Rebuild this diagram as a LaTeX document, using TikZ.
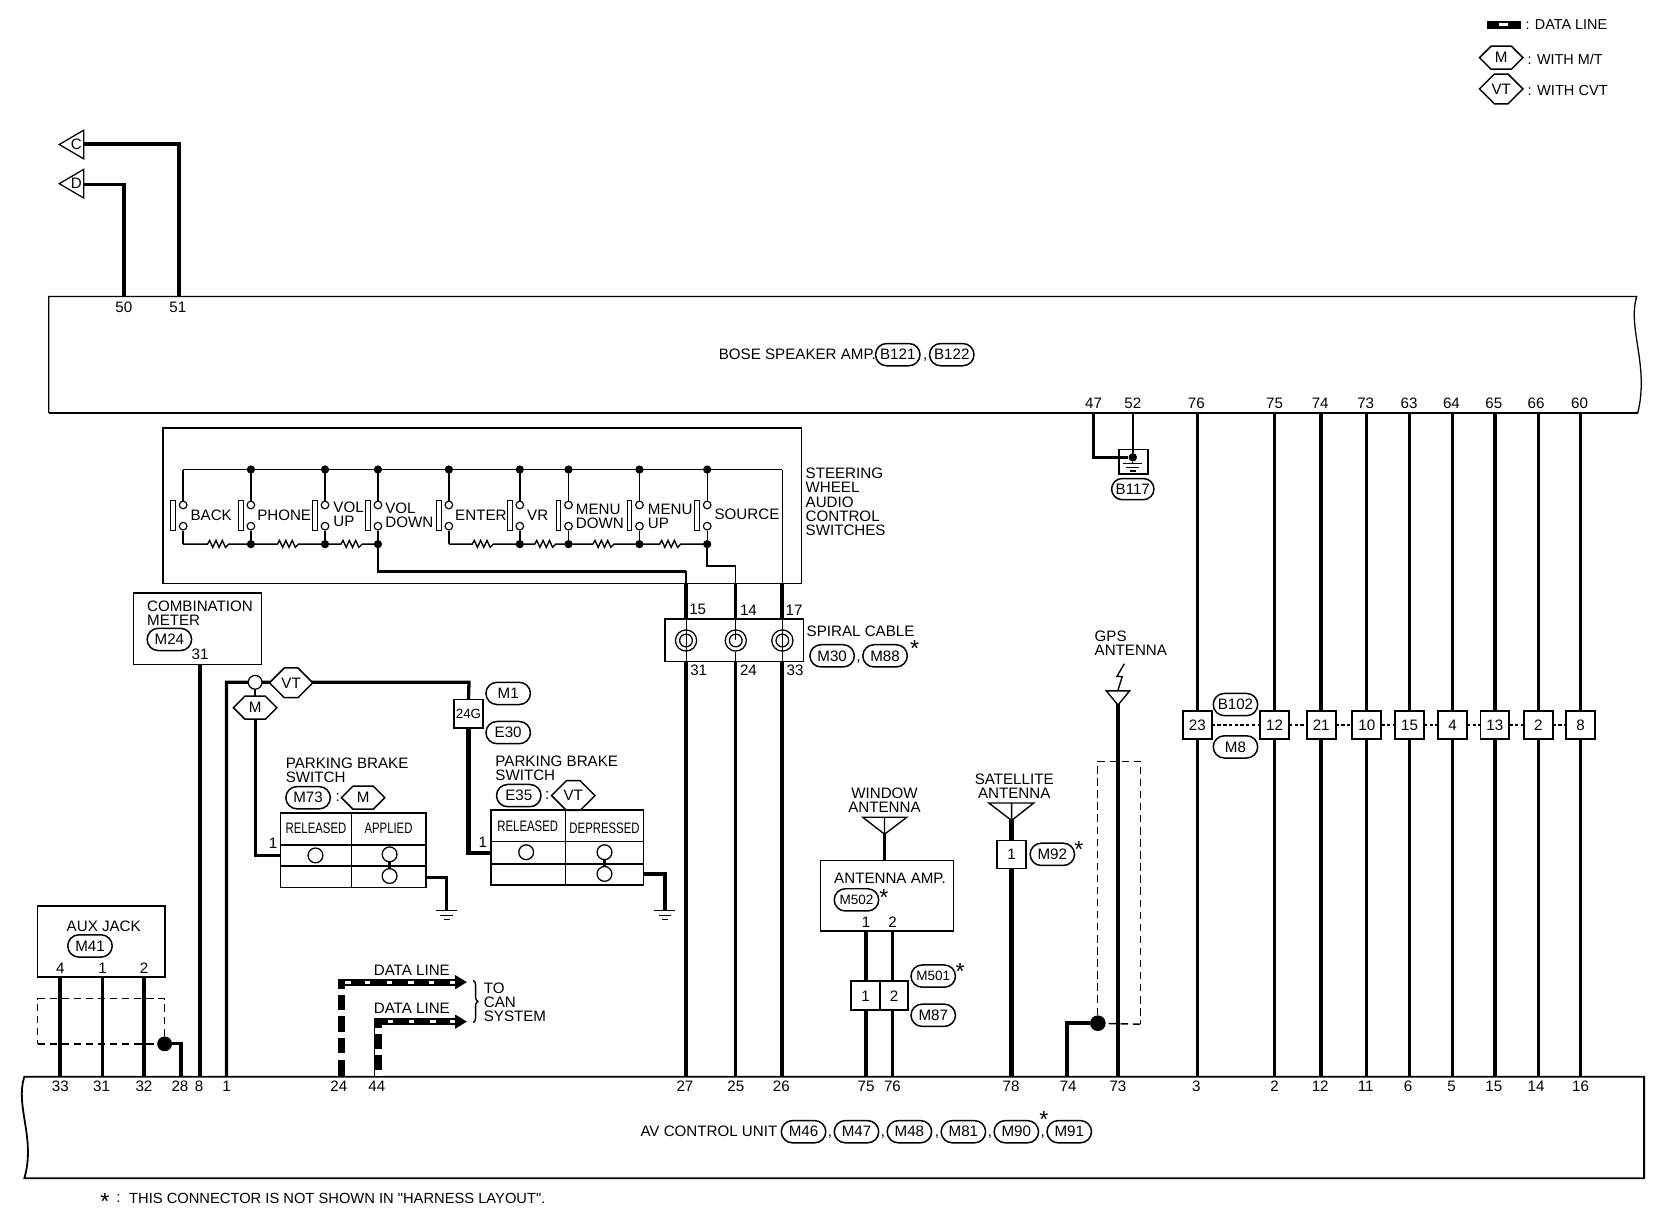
\documentclass[tikz,border=0pt]{standalone}
\usepackage{fontspec}
\usepackage{graphicx}
\setmainfont{Liberation Sans}
\newfontfamily\rawf{Liberation Sans}
\usetikzlibrary{shapes.misc,fit,decorations.pathreplacing}
\pgfdeclarelayer{bg}
\pgfsetlayers{bg,main}
\newcommand{\fs}{\fontsize{7.15}{6.65}\selectfont}
\newcommand{\nar}[1]{\scalebox{.75}[1]{#1}}
\tikzset{
  lbl/.style={inner sep=0pt,outer sep=0pt,font=\fs,align=left},
  lblw/.style={lbl,anchor=west},
  pill/.style={rounded rectangle,draw,fill=white,line width=.7pt,inner sep=0pt,outer sep=0pt,minimum width=21pt,minimum height=10.5pt,font=\fs},
  hexa/.style={chamfered rectangle,chamfered rectangle xsep=5pt,chamfered rectangle ysep=5.2pt,draw,fill=white,line width=.7pt,inner sep=0pt,outer sep=0pt,minimum width=20.5pt,minimum height=10.4pt,font=\fs},
  sbox/.style={draw,line width=.75pt,inner sep=0pt,outer sep=0pt},
  wbox/.style={sbox,fill=white},
  conn/.style={draw,fill=white,line width=.9pt,inner sep=0pt,outer sep=0pt,minimum width=13.6pt,minimum height=13.3pt,font=\fs},
  wire/.style={line width=1.55pt},
  wirex/.style={line width=2pt},
  wirem/.style={line width=1.2pt},
  rail/.style={line width=.65pt},
  contact/.style={circle,draw,fill=white,line width=.55pt,inner sep=0pt,minimum size=3.6pt},
  jdot/.style={circle,fill=black,inner sep=0pt,minimum size=3.9pt},
  bardraw/.style={draw,fill=white,line width=.5pt,inner sep=0pt,minimum width=2.2pt,minimum height=14.5pt},
  ring/.style={circle,draw,line width=.6pt,inner sep=0pt,minimum size=7pt,fill=white},
  shield/.style={line width=.55pt,dash pattern=on 3.5pt off 2.2pt},
  flagd/.style={line width=.6pt,fill=white},
  coilo/.style={circle,draw,fill=white,line width=.6pt,inner sep=0pt,minimum size=10pt},
  coili/.style={circle,draw,line width=.6pt,inner sep=0pt,minimum size=6pt},
}
\newcommand{\res}[3]{\draw[rail] (#1) -- (#3-10,514) -- (#3-8,510.5) -- (#3-5,517) -- (#3-2,510.5) -- (#3+1,517) -- (#3+4,510.5) -- (#3+7,517) -- (#3+10,514) -- (#2);}
\newcommand{\gnd}[3]{\coordinate (#1) at (#2,#3);
  \draw[rail] (#2-10,#3) -- (#2+10,#3) (#2-6,#3+4.5) -- (#2+6,#3+4.5) (#2-3,#3+8.5) -- (#2+3,#3+8.5);}
\newcommand{\strn}[3]{\node[lbl,anchor=north,font=\fontsize{11}{11}\selectfont] (#1) at (#2,#3) {*};}
\begin{document}
\begin{tikzpicture}[x=.5pt,y=-.5pt]
\useasboundingbox (0,0) rectangle (1568,1148.5);

% ---------- main units
\coordinate (bosetl) at (46,280);
\coordinate (avbl) at (23,1113);
\draw[line width=.6pt] (46,390) -- (46,280) -- (1546,280) .. controls (1537,310) and (1558,345) .. (1547,390);
\draw[line width=1.1pt] (46,390) -- (1547,390);
\node[lblw] (bosetxt) at (679,335) {BOSE SPEAKER AMP.};
\node[pill] (b121) at (848,335) {B121};
\node[lbl] (bc1) at (874,340) {,};
\node[pill] (b122) at (899,335) {B122};

\draw[line width=.85pt] (23,1017) .. controls (14,1045) and (34,1075) .. (23,1113) -- (1553,1113) -- (1553,1017) -- cycle;
\node[lblw] (avtxt) at (605,1069) {AV CONTROL UNIT};
\foreach \n/\x in {M46/759,M47/809,M48/859,M81/910,M90/960,M91/1010}
  \node[pill] (\n) at (\x,1069) {\n};
\foreach \n/\x in {a/784,b/834,c/885,d/935,e/985}
  \node[lbl] (avc\n) at (\x,1074) {,};
\strn{starav}{986}{1050}
\node[lbl,anchor=north,font=\fontsize{11}{11}\selectfont] (starfn) at (99,1127) {*};
\node[lblw] (fncolon) at (110,1132) {:};
\node[lblw,font=\fontsize{6.95}{7}\selectfont] (fn) at (122,1132) {THIS CONNECTOR IS NOT SHOWN IN {\rawf"}HARNESS LAYOUT{\rawf"}.};

% ---------- legend
\fill (1405,20) rectangle (1437,27);
\fill[white] (1416,22) rectangle (1424,25);
\node[lblw,font=\fontsize{6.8}{7}\selectfont] (l1) at (1441,23) {: DATA LINE};
\node[hexa] (lm) at (1418,54.5) {M};
\node[lblw,font=\fontsize{6.8}{7}\selectfont] (l2) at (1443,56) {: WITH M/T};
\node[hexa] (lv) at (1418,84) {VT};
\node[lblw,font=\fontsize{6.9}{7}\selectfont] (l3) at (1443,85) {: WITH CVT};

% ---------- C, D flags
\draw[flagd] (79,123) -- (56,136.5) -- (79,150) -- cycle;
\draw[flagd] (79,160) -- (56,173.5) -- (79,187) -- cycle;
\node[lbl] (fc) at (72,136.5) {C};
\node[lbl] (fd) at (72,173.5) {D};
\coordinate (cend) at (79,136);
\coordinate (dend) at (79,174);
\coordinate (b50) at (117,280);
\coordinate (b51) at (169,280);
\draw[wire,line cap=butt] (cend) -| (b51);
\draw[wire,line cap=butt] (dend) -| (b50);
\node[lbl] (n50) at (117,290) {50};
\node[lbl] (n51) at (168,290) {51};

% ---------- pin labels and through wires
\foreach \n/\x in {47/1033,52/1070,76/1130,75/1204,74/1247,73/1290,63/1331,64/1371,65/1411,66/1451,60/1492}
  \node[lbl] (tl\n) at (\x,381) {\n};
\foreach \n/\x in {33/57,31/96,32/136,28/170,8/188,1/214,24/320,44/356,27/647,25/695,26/738,75/818,76/843,78/955,74/1009,73/1056,3/1130,2/1204,12/1247,11/1290,6/1330,5/1371,15/1411,14/1451,16/1493}
  \node[lbl] (al\n) at (\x,1026) {\n};

\foreach \i/\x/\t/\w in {a/1131/23/wire,b/1204/12/wire,c/1248/21/wirex,d/1291/10/wire,e/1331.5/15/wire,f/1372/4/wire,g/1412/13/wire,h/1453/2/wire,i/1493/8/wire}{
  \coordinate (up\i) at (\x,390);
  \coordinate (dn\i) at (\x,1017);
  \node[conn] (c\i) at (\x,684.7) {\t};
  \begin{pgfonlayer}{bg}\draw[\w] (up\i) -- (dn\i);\end{pgfonlayer}
}
\draw[line width=.7pt,dash pattern=on 1.6pt off 1.1pt] (ca) -- (cb) (cb) -- (cc) (cc) -- (cd) (cd) -- (ce) (ce) -- (cf) (cf) -- (cg) (cg) -- (ch) (ch) -- (ci);
\node[pill] (b102) at (1167,665.5) {B102};
\node[pill] (m8) at (1167,705.5) {M8};

% ---------- B117 ground
\node[wbox,fit={(1057,424.5)(1084.5,448)}] (gb) {};
\node[jdot,minimum size=4pt] (gd) at (1070,432) {};
\coordinate (t47) at (1033,390);
\coordinate (t52) at (1070,390);
\draw[wire] (t47) |- (gb.west |- gd);
\draw[wirem] (gb.west |- gd) -- (gd);
\draw[wirem] (t52) -- (gd);
\draw[rail] (gd) -- (1070,438);
\draw[rail] (1061,438) -- (1079,438) (1064,441.5) -- (1076,441.5) (1067,445) -- (1073,445);
\node[pill,minimum width=20pt,minimum height=10pt] (b117) at (1070,462) {B117};

% ---------- steering wheel switches
\node[sbox,fit={(154,404)(757,551)}] (sw) {};
\draw[line width=1pt] (sw.north west) -- (sw.north east);
\foreach \i/\x in {a/173,b/237,c/307,d/357,e/424,f/491,g/537,h/604,i/668}{
  \node[contact] (u\i) at (\x,477) {};
  \node[contact] (l\i) at (\x,497) {};
  \node[bardraw] (bar\i) at (\x-9.5,487) {};
  \coordinate (tn\i) at (\x,443.5);
  \coordinate (bn\i) at (\x,514);
  \begin{pgfonlayer}{bg}
    \draw[rail] (tn\i) -- (u\i);
    \draw[rail] (l\i) -- (bn\i);
  \end{pgfonlayer}
}
\foreach \i/\x in {b/237,c/307,d/357,e/424,f/491,g/537,h/604,i/668}
  \node[jdot] (tj\i) at (\x,443.5) {};
\foreach \i/\x in {b/237,c/307,d/357,f/491,g/537,h/604,i/668}
  \node[jdot] (bj\i) at (\x,514) {};
\coordinate (trail) at (739,443.5);
\draw[rail] (tna) -- (trail);
\res{bna}{bnb}{206}
\res{bnb}{bnc}{272}
\res{bnc}{bnd}{332}
\res{bne}{bnf}{456}
\res{bnf}{bng}{515}
\res{bng}{bnh}{570}
\res{bnh}{bni}{633}
\node[lblw] (sbk) at (180,487) {BACK};
\node[lblw] (sph) at (243,487) {PHONE};
\node[lblw] (svu) at (315,486) {VOL\\UP};
\node[lblw] (svd) at (364,487) {VOL\\DOWN};
\node[lblw] (sen) at (430,487) {ENTER};
\node[lblw] (svr) at (498,487) {VR};
\node[lblw] (smd) at (544,488) {MENU\\DOWN};
\node[lblw] (smu) at (612,488) {MENU\\UP};
\node[lblw] (sso) at (675,486) {SOURCE};
\node[lblw] (swt) at (761,474) {STEERING\\WHEEL\\AUDIO\\CONTROL\\SWITCHES};

% ---------- spiral cable
\node[sbox,fit={(628,584.5)(759,625)}] (sp) {};
\coordinate (k15) at (648,539.6);
\coordinate (k14) at (695,534.5);
\foreach \i/\x in {a/648,b/695,c/739}{
  \coordinate (o\i) at (\x,551);
  \coordinate (st\i) at (\x,584.5);
  \coordinate (sl\i) at (\x,625);
  \coordinate (e\i) at (\x,1017);
  \node[coilo] (co\i) at (\x,605) {};
  \node[coili] (ci\i) at (\x,605) {};
  \draw[line width=.5pt] (st\i) -- (\x,605);
}
\draw[line width=.5pt] (coa.center) -- (sla) (coc.center) -- (slc) (cob.south) -- (slb);
\begin{pgfonlayer}{bg}
\draw[wirem] (bnd) |- (k15);
\draw[wirem] (bni) |- (k14);
\draw[rail] (k15) -- (oa);
\draw[rail] (k14) -- (ob);
\draw[rail] (trail) -- (oc);
\draw[wirex] (oa) -- (sta);
\draw[wire] (ob) -- (stb);
\draw[wirex] (oc) -- (stc);
\draw[wirex] (sla) -- (ea);
\draw[wire] (slb) -- (eb);
\draw[wirex] (slc) -- (ec);
\end{pgfonlayer}
\foreach \n/\x in {15/659,14/707,17/750}
  \node[lbl] (sa\n) at (\x,576) {\n};
\foreach \n/\x in {31/660,24/707,33/751}
  \node[lbl] (sb\n) at (\x,633.5) {\n};
\node[lblw] (sct) at (762,596) {SPIRAL CABLE};
\node[pill] (m30) at (786,619.5) {M30};
\node[lbl] (spc) at (811,625) {,};
\node[pill] (m88) at (836,619.5) {M88};
\strn{starsp}{864}{605}

% ---------- combination meter
\node[sbox,fit={(126,560)(247,627.5)}] (cm) {};
\node[lblw] (cmt) at (139,579) {COMBINATION\\METER};
\node[pill] (m24) at (160,604) {M24};
\node[lbl] (cm31) at (189,618) {31};
\coordinate (cmb) at (189,627.5);
\coordinate (a8) at (189,1017);
\draw[wirex] (cmb) -- (a8);

% ---------- parking brake branch
\coordinate (a1) at (214,1017);
\coordinate (j1) at (214,644.5);
\coordinate (jr) at (443,644.5);
\node[ring,minimum size=6.5pt] (jc) at (241,644.5) {};
\node[hexa] (jv) at (275,645) {VT};
\node[hexa] (jm) at (241,668.5) {M};
\node[conn,minimum height=13.3pt] (c24) at (442.5,674) {\fontsize{6.3}{7}\selectfont 24G};
\node[pill] (m1) at (480,655) {M1};
\node[pill] (e30) at (480,692) {E30};
\coordinate (sw1) at (265,808);
\coordinate (sw2) at (464,806);
\begin{pgfonlayer}{bg}
\draw[wire] (a1) -- (j1) -- (jr) -- (c24.north);
\draw[wirex] (c24.south) |- (sw2);
\draw[rail] (jc) -- (jm);
\draw[wire] (jm.south) |- (sw1);
\end{pgfonlayer}
\node[lbl] (one1) at (258,797) {1};
\node[lbl] (one2) at (456,796) {1};

\node[lblw] (pb1) at (270,728) {PARKING BRAKE\\SWITCH};
\node[pill] (m73) at (291,753.5) {M73};
\node[lbl] (pc1) at (319,753.5) {:};
\node[hexa] (hm) at (343,753.5) {M};
\node[sbox,fit={(265,768)(402.5,838.5)}] (tb1) {};
\draw[rail] (332,768) -- (332,838.5) (265,798) -- (402.5,798) (265,818) -- (402.5,818);
\node[lbl] (t1a) at (298.5,782.5) {\nar{RELEASED}};
\node[lbl] (t1b) at (367,782.5) {\nar{APPLIED}};
\node[ring] (r1) at (298,808) {};
\node[ring] (r2) at (368,807) {};
\node[ring] (r3) at (368,827.5) {};
\draw[wirem] (r2) -- (r3);
\gnd{g1}{422}{860}
\coordinate (o1) at (402.5,829);
\draw[wire] (o1) -| (g1);

\node[lblw] (pb2) at (468,725.5) {PARKING BRAKE\\SWITCH};
\node[pill] (e35) at (490,751.5) {E35};
\node[lbl] (pc2) at (517,751.5) {:};
\node[hexa] (hv) at (541.5,751.5) {VT};
\node[sbox,fit={(464,765)(608,836)}] (tb2) {};
\draw[rail] (534,765) -- (534,836) (464,795) -- (608,795) (464,816) -- (608,816);
\node[lbl] (t2a) at (498.5,780.5) {\nar{RELEASED}};
\node[lbl] (t2b) at (571,782) {\nar{DEPRESSED}};
\node[ring] (r4) at (497,805) {};
\node[ring] (r5) at (571,805) {};
\node[ring] (r6) at (571,825.5) {};
\draw[wirem] (r5) -- (r6);
\gnd{g2}{628}{860}
\coordinate (o2) at (608,825.5);
\draw[wirex] (o2) -| (g2);

% ---------- aux jack
\node[sbox,fit={(35.5,856)(156,923)}] (aux) {};
\node[lbl] (auxt) at (98,875) {AUX JACK};
\node[pill] (m41) at (85,893.5) {M41};
\foreach \n/\x/\w in {4/57/wirex,1/97/wire,2/136/wire}{
  \node[lbl] (ap\n) at (\x,914.5) {\n};
  \coordinate (ax\n) at (\x,923);
  \coordinate (ay\n) at (\x,1017);
  \draw[\w] (ax\n) -- (ay\n);
}
\node[jdot,minimum size=7pt] (adot) at (155.5,986) {};
\coordinate (a28) at (171,1017);
\draw[wire] (adot) -| (a28);
\draw[shield] (adot) -- (155.5,943.5) -- (35.5,943.5) -- (35.5,986);
\draw[line width=.7pt,dash pattern=on 3.5pt off 2.2pt] (35.5,986) -- (adot);

% ---------- data lines
\coordinate (d1a) at (322.7,1017);
\coordinate (d1b) at (322.7,927.7);
\coordinate (d1c) at (431,927.7);
\coordinate (d2a) at (357,1017);
\coordinate (d2b) at (357,965);
\coordinate (d2c) at (431,965);
\draw[line width=3.4pt,miter limit=4] (d1a) -- (d1b) -- (d1c);
\draw[line width=3.4pt,miter limit=4] (d2a) -- (d2b) -- (d2c);
\foreach \y in {937,957,977.5,998}
  \fill[white] (319,\y-3) rectangle (326.4,\y+3);
\foreach \y in {973.6,993.8,1013.6}
  \fill[white] (354.4,\y-3) rectangle (360.8,\y+3);
\foreach \x in {328.8,347.3,367.7,388,407.7,427.5}
  \fill[white] (\x-2.6,926.2) rectangle (\x+2.6,929.2);
\foreach \x in {368.7,388.8,409,428}
  \fill[white] (\x-2.6,963.5) rectangle (\x+2.6,966.5);
\fill (430,921) -- (441,927.7) -- (430,934.4) -- cycle;
\fill (430,958.3) -- (441,965) -- (430,971.7) -- cycle;
\node[lbl] (dl1) at (389,916.5) {DATA LINE};
\node[lbl] (dl2) at (389,952) {DATA LINE};
\draw[rail,decorate,decoration={brace,amplitude=2.2pt}] (447,926) -- (447,966);
\node[lblw] (tocan) at (457,947) {TO\\CAN\\SYSTEM};

% ---------- window antenna
\node[lbl,align=center] (wa) at (835.5,755.5) {WINDOW\\ANTENNA};
\draw[rail] (815,772) -- (856.5,772) -- (835.5,788) -- cycle (835.5,772) -- (835.5,788);
\coordinate (wtip) at (835.5,788);
\node[sbox,fit={(775,813)(900.5,879.5)}] (amp) {};
\draw[wire] (wtip) -- (amp.north -| wtip);
\node[lblw] (ampt) at (788,830) {ANTENNA AMP.};
\node[pill] (m502) at (809,850) {\fontsize{6.4}{7}\selectfont M502};
\strn{star502}{835}{840}
\node[lbl] (p1) at (818,871) {1};
\node[lbl] (p2) at (843,871) {2};
\node[conn,minimum width=13.5pt,minimum height=13.7pt] (k1) at (817.5,940.7) {1};
\node[conn,minimum width=13.5pt,minimum height=13.7pt] (k2) at (844.5,940.7) {2};
\coordinate (am1) at (818,879.5);
\coordinate (am2) at (843,879.5);
\coordinate (av1) at (818,1017);
\coordinate (av2) at (843,1017);
\begin{pgfonlayer}{bg}
\draw[wirex] (am1) -- (av1);
\draw[wire] (am2) -- (av2);
\end{pgfonlayer}
\node[pill] (m501) at (881.5,922) {\fontsize{6.4}{7}\selectfont M501};
\strn{star501}{907}{910}
\node[pill] (m87) at (881.5,959) {M87};

% ---------- satellite antenna
\node[lbl,align=center] (sa) at (958,742.5) {SATELLITE\\ANTENNA};
\draw[rail] (934,758.5) -- (976.5,758.5) -- (955.5,775) -- cycle (955.5,758.5) -- (955.5,775);
\coordinate (stip) at (955.5,775);
\coordinate (sbot) at (955.5,1017);
\node[conn,line width=.65pt] (k3) at (955.5,807.3) {1};
\begin{pgfonlayer}{bg}\draw[wirex] (stip) -- (sbot);\end{pgfonlayer}
\node[pill] (m92) at (994,807) {M92};
\strn{star92}{1019}{795}

% ---------- GPS antenna
\node[lblw] (gps) at (1034,608) {GPS\\ANTENNA};
\draw[rail] (1062,627) -- (1055,639) -- (1060,639) -- (1056,652);
\draw[rail] (1045,652.6) -- (1067,652.6) -- (1056,666) -- cycle;
\coordinate (gtip) at (1056,665);
\coordinate (gbot) at (1056,1017);
\draw[wirex] (gtip) -- (gbot);
\node[jdot,minimum size=7.4pt] (gdot) at (1037,966.5) {};
\coordinate (g74) at (1008,1017);
\draw[wirex] (gdot) -| (g74);
\draw[shield] (gdot) -- (1037,719) -- (1077,719) -- (1077,967.5);
\draw[line width=.7pt,dash pattern=on 3.5pt off 2.2pt] (1077,967.5) -- (gdot);
\end{tikzpicture}
\end{document}
